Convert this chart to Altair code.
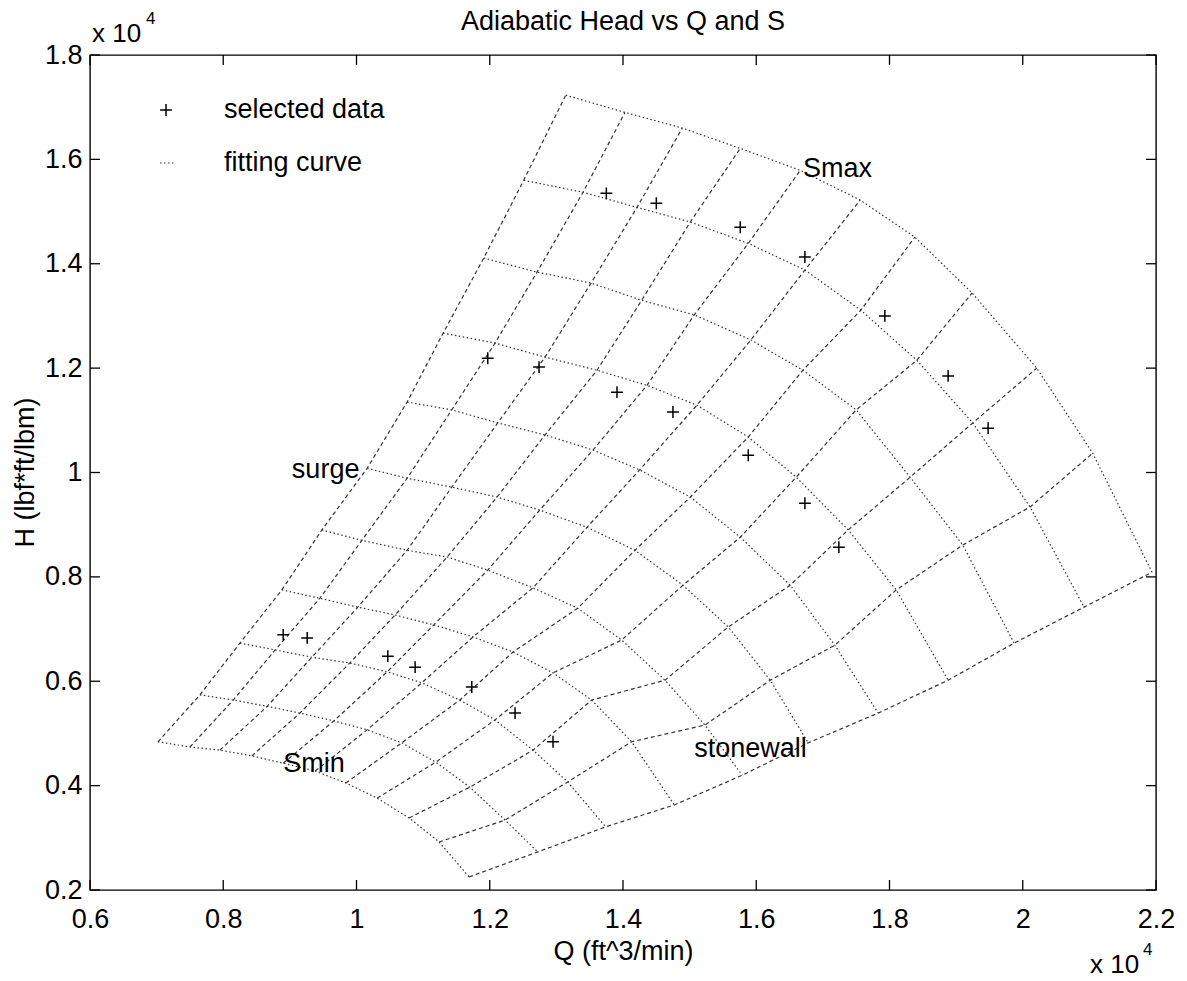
import altair as alt
import pandas as pd

# ---- fitted-surface mesh nodes (x 10^4 units); rows = speed lines Smin..Smax,
# ---- columns = flow lines from surge (first) to stonewall (last)
S_Q = [
    [0.702, 0.750, 0.795, 0.843, 0.890, 0.938, 0.984, 1.031, 1.079, 1.124, 1.169],
    [0.765, 0.815, 0.866, 0.915, 0.966, 1.016, 1.068, 1.119, 1.170, 1.223, 1.272],
    [0.825, 0.878, 0.933, 0.990, 1.046, 1.098, 1.155, 1.208, 1.265, 1.317, 1.374],
    [0.888, 0.945, 1.002, 1.058, 1.116, 1.175, 1.235, 1.295, 1.353, 1.413, 1.477],
    [0.948, 1.008, 1.076, 1.136, 1.197, 1.265, 1.332, 1.398, 1.463, 1.523, 1.579],
    [1.016, 1.076, 1.143, 1.211, 1.275, 1.346, 1.418, 1.490, 1.558, 1.621, 1.678],
    [1.076, 1.143, 1.212, 1.283, 1.355, 1.425, 1.501, 1.576, 1.651, 1.718, 1.783],
    [1.130, 1.208, 1.283, 1.361, 1.436, 1.511, 1.588, 1.660, 1.738, 1.810, 1.888],
    [1.191, 1.271, 1.352, 1.428, 1.507, 1.592, 1.670, 1.750, 1.831, 1.910, 1.987],
    [1.251, 1.340, 1.421, 1.501, 1.588, 1.673, 1.757, 1.841, 1.925, 2.011, 2.092],
    [1.314, 1.403, 1.489, 1.576, 1.666, 1.756, 1.838, 1.924, 2.021, 2.105, 2.194],
]
S_H = [
    [0.484, 0.474, 0.468, 0.457, 0.443, 0.428, 0.405, 0.376, 0.338, 0.292, 0.225],
    [0.574, 0.564, 0.552, 0.539, 0.524, 0.507, 0.482, 0.445, 0.397, 0.334, 0.273],
    [0.673, 0.660, 0.646, 0.635, 0.618, 0.597, 0.564, 0.526, 0.468, 0.407, 0.321],
    [0.775, 0.759, 0.742, 0.727, 0.708, 0.685, 0.656, 0.616, 0.564, 0.484, 0.363],
    [0.890, 0.870, 0.851, 0.838, 0.813, 0.779, 0.740, 0.679, 0.602, 0.516, 0.420],
    [1.008, 0.989, 0.972, 0.953, 0.928, 0.895, 0.851, 0.784, 0.704, 0.602, 0.482],
    [1.135, 1.120, 1.095, 1.072, 1.043, 1.005, 0.953, 0.876, 0.784, 0.669, 0.539],
    [1.267, 1.248, 1.221, 1.196, 1.167, 1.129, 1.068, 0.991, 0.890, 0.775, 0.602],
    [1.411, 1.384, 1.363, 1.330, 1.302, 1.254, 1.196, 1.120, 0.991, 0.861, 0.673],
    [1.560, 1.537, 1.508, 1.480, 1.439, 1.388, 1.311, 1.215, 1.095, 0.934, 0.742],
    [1.723, 1.690, 1.660, 1.621, 1.579, 1.522, 1.451, 1.344, 1.200, 1.037, 0.809],
]

# ---- selected data points
P_Q = [0.890, 0.926, 1.047, 1.088, 1.173, 1.238, 1.295, 1.375, 1.450, 1.576, 1.673,
       1.197, 1.274, 1.391, 1.793, 1.888, 1.475, 1.588, 1.673, 1.724, 1.948]
P_H = [0.689, 0.683, 0.648, 0.627, 0.589, 0.539, 0.484, 1.535, 1.516, 1.470, 1.413,
       1.219, 1.202, 1.154, 1.300, 1.185, 1.116, 1.033, 0.941, 0.857, 1.085]

# ---- annotations
ANN_TEXT = ["Smax", "surge", "Smin", "stonewall"]
ANN_Q = [1.670, 0.903, 0.890, 1.507]
ANN_H = [1.581, 1.005, 0.441, 0.470]

# ---- ticks
X_TICKS = [0.6, 0.8, 1.0, 1.2, 1.4, 1.6, 1.8, 2.0, 2.2]
Y_TICKS = [0.2, 0.4, 0.6, 0.8, 1.0, 1.2, 1.4, 1.6, 1.8]

W, H = 1066, 835
FONT = "Liberation Sans"
FS = 27

rows = []
for i in range(len(S_Q)):
    for j in range(len(S_Q[i])):
        rows.append({"Q": S_Q[i][j], "H": S_H[i][j], "s": i, "f": j})
mesh = pd.DataFrame(rows)
pts = pd.DataFrame({"Q": P_Q, "H": P_H})
ann = pd.DataFrame({"t": ANN_TEXT, "Q": ANN_Q, "H": ANN_H})
xt = pd.DataFrame({"Q": X_TICKS})
yt = pd.DataFrame({"H": Y_TICKS})

xs = alt.Scale(domain=[0.6, 2.2], nice=False, zero=False)
ys = alt.Scale(domain=[0.2, 1.8], nice=False, zero=False)

x_axis = alt.Axis(values=X_TICKS, format="~g", ticks=False, domain=False, grid=False,
                  labelFont=FONT, labelFontSize=FS, labelColor="black", labelPadding=16,
                  labelFlush=False, labelOverlap=False,
                  title="Q (ft^3/min)", titleFont=FONT, titleFontSize=FS,
                  titleFontWeight="normal", titleColor="black", titleX=533, titleY=69,
                  titleBaseline="alphabetic", titleAlign="center")
y_axis = alt.Axis(values=Y_TICKS, format="~g", ticks=False, domain=False, grid=False,
                  labelFont=FONT, labelFontSize=FS, labelColor="black", labelPadding=8,
                  labelFlush=False, labelOverlap=False,
                  title="H (lbf*ft/lbm)", titleFont=FONT, titleFontSize=FS,
                  titleFontWeight="normal", titleColor="black", titleX=-57, titleY=417,
                  titleAngle=270, titleBaseline="alphabetic", titleAlign="center")

X = alt.X("Q:Q", scale=xs, axis=x_axis)
Y = alt.Y("H:Q", scale=ys, axis=y_axis)

speed_lines = alt.Chart(mesh).mark_line(color="#333333", strokeWidth=1.2,
                                        strokeDash=[1.5, 2.5]).encode(
    x=X, y=Y, detail="s:N", order="f:Q")

flow_lines = alt.Chart(mesh).mark_line(color="#333333", strokeWidth=1.2,
                                       strokeDash=[4, 3]).encode(
    x=X, y=Y, detail="f:N", order="s:Q")

PLUS = "M-1,0L1,0M0,-1L0,1"
points = alt.Chart(pts).mark_point(shape=PLUS, filled=False, color="black",
                                   strokeWidth=1.5, size=140, opacity=1).encode(x=X, y=Y)

labels = alt.Chart(ann).mark_text(font=FONT, fontSize=FS, align="left",
                                  baseline="middle", color="black").encode(
    x=X, y=Y, text="t:N")

# inward ticks on all four sides
tick_style = dict(color="black", strokeWidth=1.3)
tb = alt.Chart(xt).mark_rule(**tick_style).encode(
    x=X, y=alt.value(H), y2=alt.value(H - 10))
tt = alt.Chart(xt).mark_rule(**tick_style).encode(
    x=X, y=alt.value(0), y2=alt.value(10))
tl = alt.Chart(yt).mark_rule(**tick_style).encode(
    y=Y, x=alt.value(0), x2=alt.value(10))
tr = alt.Chart(yt).mark_rule(**tick_style).encode(
    y=Y, x=alt.value(W), x2=alt.value(W - 10))

# legend (drawn manually, MATLAB style)
one = pd.DataFrame({"k": [0]})
leg_plus = alt.Chart(one).mark_point(
    shape=PLUS, filled=False, color="black", strokeWidth=1.5, size=140, opacity=1).encode(
    x=alt.value(76), y=alt.value(55))
leg_line = alt.Chart(one).mark_rule(
    color="#333333", strokeWidth=1.2, strokeDash=[1.5, 2.5]).encode(
    x=alt.value(70), x2=alt.value(84), y=alt.value(108))
leg_text1 = alt.Chart(one).mark_text(
    font=FONT, fontSize=FS, align="left", baseline="middle", color="black",
    text="selected data").encode(x=alt.value(134), y=alt.value(55))
leg_text2 = alt.Chart(one).mark_text(
    font=FONT, fontSize=FS, align="left", baseline="middle", color="black",
    text="fitting curve").encode(x=alt.value(134), y=alt.value(108))

title = alt.Chart(one).mark_text(
    font=FONT, fontSize=FS, align="center", baseline="alphabetic", color="black",
    text="Adiabatic Head vs Q and S").encode(x=alt.value(533), y=alt.value(-25))

mult_top = alt.Chart(one).mark_text(
    font=FONT, fontSize=26, align="left", baseline="alphabetic", color="black",
    text="x 10").encode(x=alt.value(2), y=alt.value(-13))
mult_top_e = alt.Chart(one).mark_text(
    font=FONT, fontSize=17, align="left", baseline="alphabetic", color="black",
    text="4").encode(x=alt.value(56), y=alt.value(-31))
mult_bot = alt.Chart(one).mark_text(
    font=FONT, fontSize=26, align="left", baseline="alphabetic", color="black",
    text="x 10").encode(x=alt.value(1000), y=alt.value(918))
mult_bot_e = alt.Chart(one).mark_text(
    font=FONT, fontSize=17, align="left", baseline="alphabetic", color="black",
    text="4").encode(x=alt.value(1053), y=alt.value(900))

chart = alt.layer(
    speed_lines, flow_lines, points, labels, tb, tt, tl, tr,
    leg_plus, leg_line, leg_text1, leg_text2, title,
    mult_top, mult_top_e, mult_bot, mult_bot_e
).properties(
    width=W, height=H,
    autosize=alt.AutoSizeParams(type="none"),
    padding={"left": 90, "top": 55, "right": 31, "bottom": 91},
    background="white",
).configure_view(stroke="black", strokeWidth=1.4)

chart.save("out.html", embed_options={"renderer": "svg", "actions": False})
